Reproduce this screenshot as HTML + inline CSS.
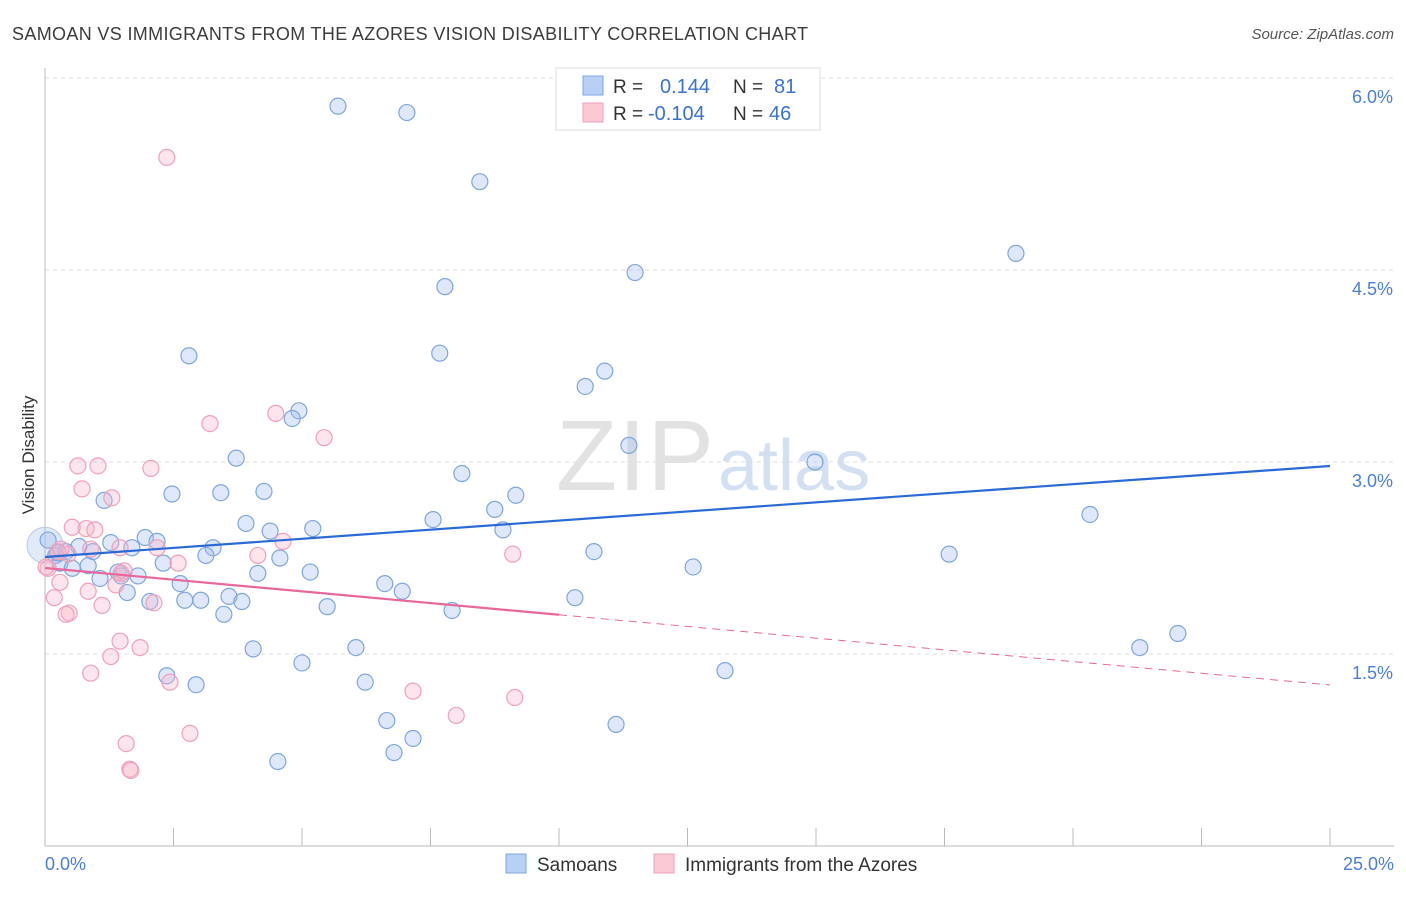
<!DOCTYPE html>
<html><head><meta charset="utf-8"><style>
body{margin:0;background:#fff;font-family:"Liberation Sans",sans-serif;}
svg text{font-family:"Liberation Sans",sans-serif;}
</style></head><body>
<svg id="chart" width="1406" height="892" xmlns="http://www.w3.org/2000/svg">
<text x="12" y="40" font-size="18" textLength="796" fill="#3c3c3c">SAMOAN VS IMMIGRANTS FROM THE AZORES VISION DISABILITY CORRELATION CHART</text>
<text x="1394" y="39" font-size="15" font-style="italic" fill="#555" text-anchor="end">Source: ZipAtlas.com</text>
<g>
<text x="714" y="490" font-size="100" font-family="Liberation Serif" fill="#e2e2e2" text-anchor="end" textLength="158">ZIP</text>
<text x="718" y="490" font-size="72" fill="#d2e0f2">atlas</text>
</g>
<g id="grid"></g>
<g id="marks"></g>
<text transform="translate(34,455) rotate(-90)" font-size="17" fill="#333" text-anchor="middle">Vision Disability</text>
<text x="45" y="870" font-size="18" fill="#4a7fd6">0.0%</text>
<text x="1394" y="870" font-size="18" fill="#4a7fd6" text-anchor="end">25.0%</text>
<g>
<rect x="556" y="68" width="264" height="62" fill="#fff" stroke="#ddd"/>
<rect x="583" y="76" width="20" height="19" fill="#b8d0f4" stroke="#7ea6e0"/>
<rect x="583" y="103" width="20" height="19" fill="#fbc8d6" stroke="#f0a0b8"/>
<text x="613" y="93" font-size="19" fill="#333">R =</text>
<text x="660" y="93" font-size="20" fill="#3a72d0">0.144</text>
<text x="733" y="93" font-size="19" fill="#333">N =</text>
<text x="774" y="93" font-size="20" fill="#3a72d0">81</text>
<text x="613" y="120" font-size="19" fill="#333">R =</text>
<text x="648" y="120" font-size="20" fill="#3a72d0">-0.104</text>
<text x="733" y="120" font-size="19" fill="#333">N =</text>
<text x="769" y="120" font-size="20" fill="#3a72d0">46</text>
</g>
<g>
<rect x="506" y="854" width="20" height="19" fill="#b8d0f4" stroke="#7ea6e0"/>
<text x="537" y="871" font-size="19" fill="#333">Samoans</text>
<rect x="654" y="854" width="20" height="19" fill="#fbc8d6" stroke="#f0a0b8"/>
<text x="685" y="871" font-size="19" fill="#333">Immigrants from the Azores</text>
</g>
</svg>
<script>
const yTicks=[1.5,3.0,4.5,6.0];
const yTickLabels=["1.5%","3.0%","4.5%","6.0%"];
const xTicks=[0,2.5,5,7.5,10,12.5,15,17.5,20,22.5,25];
const samoanX=[5.70,7.04,8.46,18.89,11.48,7.78,2.80,7.68,10.89,10.51,4.94,4.81,11.36,3.72,14.98,8.11,2.47,3.42,4.26,9.16,1.15,8.75,7.55,20.33,3.91,8.91,4.38,5.21,1.95,2.18,1.28,0.66,1.69,3.27,0.41,0.93,0.21,3.13,10.68,17.59,4.57,2.30,0.29,0.84,0.53,12.61,1.42,1.81,4.14,5.16,1.07,1.48,2.63,6.61,6.95,1.60,3.58,2.04,2.72,3.03,3.83,10.31,5.49,7.92,3.48,4.05,6.05,22.04,21.30,2.37,5.00,6.23,2.94,13.23,6.65,11.11,7.16,6.79,4.53,0.06,0.25];
const samoanY=[5.78,5.73,5.19,4.63,4.48,4.37,3.83,3.85,3.71,3.59,3.40,3.34,3.13,3.03,3.00,2.91,2.75,2.76,2.77,2.74,2.70,2.63,2.55,2.59,2.52,2.47,2.46,2.48,2.41,2.38,2.37,2.34,2.33,2.33,2.30,2.30,2.27,2.27,2.30,2.28,2.25,2.21,2.21,2.19,2.17,2.18,2.14,2.11,2.13,2.14,2.09,2.11,2.05,2.05,1.99,1.98,1.95,1.91,1.92,1.92,1.91,1.94,1.87,1.84,1.81,1.54,1.55,1.66,1.55,1.33,1.43,1.28,1.26,1.37,0.98,0.95,0.84,0.73,0.66,2.39,2.29];
const azoresX=[2.37,3.21,4.49,5.43,0.64,1.03,2.06,0.72,1.30,0.53,0.80,0.97,2.18,0.89,0.25,0.45,0.31,1.46,4.14,4.63,9.10,2.59,0.06,1.54,1.48,0.29,1.38,0.84,0.18,1.11,2.12,0.47,0.41,1.46,1.85,1.28,0.89,2.43,7.16,9.14,8.00,2.82,1.58,1.65,1.67,0.02];
const azoresY=[5.38,3.30,3.38,3.19,2.97,2.97,2.95,2.79,2.72,2.49,2.48,2.47,2.33,2.32,2.30,2.28,2.32,2.33,2.27,2.38,2.28,2.21,2.17,2.15,2.13,2.06,2.04,1.99,1.94,1.88,1.90,1.82,1.81,1.60,1.55,1.48,1.35,1.28,1.21,1.16,1.02,0.88,0.80,0.60,0.59,2.18];
const samoanTrend=[2.258,2.969];
const azoresTrend=[2.172,1.258];
const azoresSolidEnd=10;

const NS="http://www.w3.org/2000/svg";
const X=v=>45+v/25*1285;
const Y=v=>846-v*128;
function mk(tag,attrs,parent){const e=document.createElementNS(NS,tag);for(const k in attrs)e.setAttribute(k,attrs[k]);parent.appendChild(e);return e;}
const grid=document.getElementById('grid'),marks=document.getElementById('marks');
yTicks.forEach((t,i)=>{
 const l=mk('line',{x1:45,x2:1394,y1:Y(t),y2:Y(t),stroke:'#ddd','stroke-dasharray':'4,4'},grid);
 
 
 const tx=mk('text',{x:1393,y:Y(t)+25,'font-size':18,fill:'#4a7fd6','text-anchor':'end'},grid);
 tx.textContent=yTickLabels[i];
 
 
});
const ax=mk('line',{x1:45,x2:45,y1:68,y2:846,stroke:'#bbb'},grid);


const bx=mk('line',{x1:45,x2:1394,y1:846,y2:846,stroke:'#bbb'},grid);


xTicks.forEach(t=>{
 const l=mk('line',{x1:X(t),x2:X(t),y1:828,y2:846,stroke:'#bbb'},grid);
 
 
});
const big=mk('circle',{cx:X(0),cy:Y(2.35),r:18,fill:'rgba(170,195,235,0.35)',stroke:'#b8c8e8'},marks);


samoanX.forEach((x,i)=>{
 const c=mk('circle',{cx:X(x),cy:Y(samoanY[i]),r:8,fill:'rgba(160,190,240,0.35)',stroke:'#7ea6e0','stroke-width':1.2},marks);
 
 
});
azoresX.forEach((x,i)=>{
 const c=mk('circle',{cx:X(x),cy:Y(azoresY[i]),r:8,fill:'rgba(245,180,200,0.35)',stroke:'#f0a0b8','stroke-width':1.2},marks);
 
 
});
const st=mk('line',{x1:X(0),y1:Y(samoanTrend[0]),x2:X(25),y2:Y(samoanTrend[1]),stroke:'#2a6ad6','stroke-width':2.2},marks);


const aAt=x=>azoresTrend[0]+(azoresTrend[1]-azoresTrend[0])*x/25;
const as=mk('line',{x1:X(0),y1:Y(aAt(0)),x2:X(azoresSolidEnd),y2:Y(aAt(azoresSolidEnd)),stroke:'#e8689a','stroke-width':2.2},marks);


const ad=mk('line',{x1:X(azoresSolidEnd),y1:Y(aAt(azoresSolidEnd)),x2:X(25),y2:Y(aAt(25)),stroke:'#e8689a','stroke-width':1,'stroke-dasharray':'8,6'},marks);


</script>
</body></html>
